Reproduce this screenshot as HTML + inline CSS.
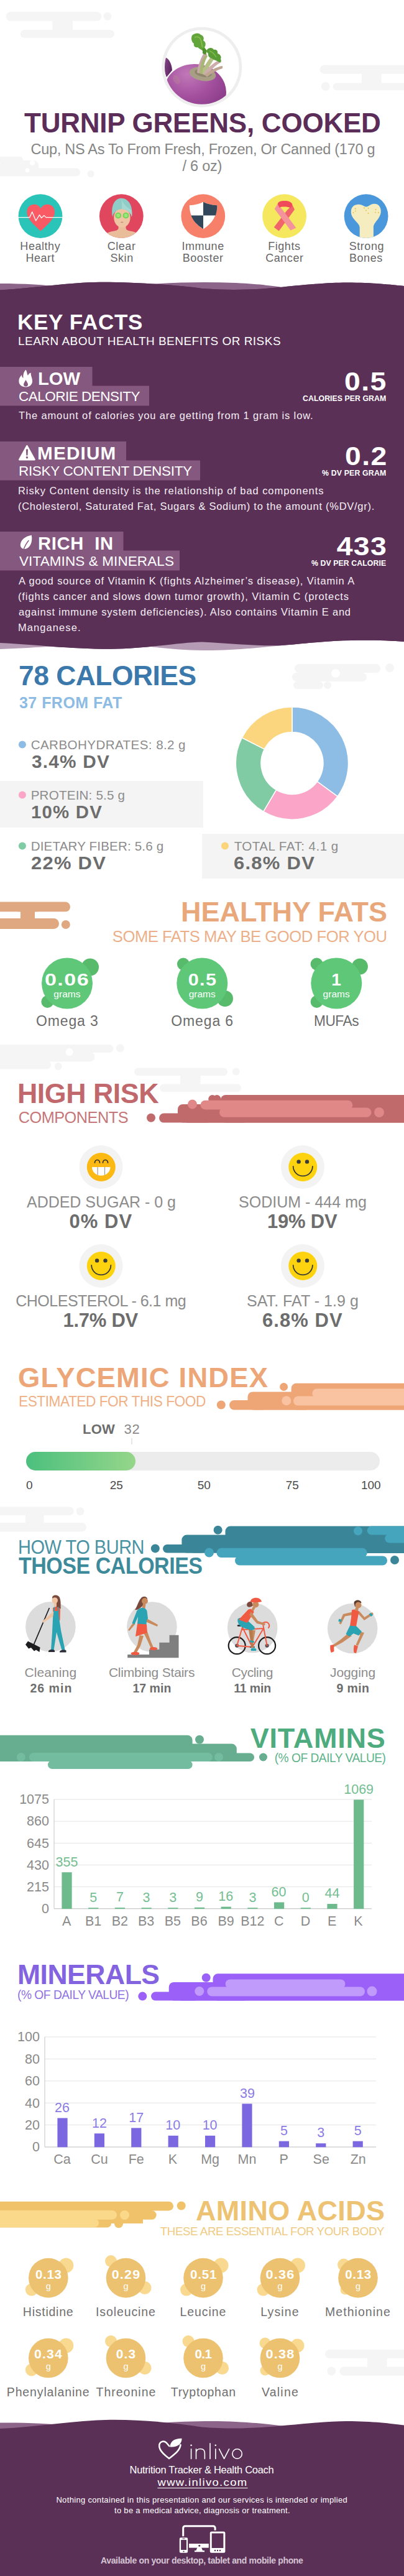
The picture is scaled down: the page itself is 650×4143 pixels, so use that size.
<!DOCTYPE html>
<html><head><meta charset="utf-8"><title>Turnip Greens, Cooked</title><style>
html,body{margin:0;padding:0;background:#fff;width:650px;height:4143px;overflow:hidden}#pg{width:650px;height:4143px;position:relative;overflow:hidden;font-family:"Liberation Sans",sans-serif}
.t{position:absolute;white-space:nowrap;margin:0;padding:0}
#bg{position:absolute;left:0;top:0}
</style></head><body><div id="pg">
<svg id="bg" width="650" height="4143" viewBox="0 0 650 4143">
<rect x="9.8" y="19" width="153.6" height="14.799999999999997" rx="7.399999999999999" fill="#f5f5f5"/>
<circle cx="173" cy="26.3" r="6.5" fill="#f5f5f5"/>
<rect x="32.7" y="48" width="151.3" height="13" rx="6.5" fill="#f5f5f5"/>
<rect x="84.4" y="28" width="32.599999999999994" height="26" rx="0" fill="#f5f5f5"/>
<rect x="514.6" y="104.6" width="155.39999999999998" height="14.200000000000003" rx="7.100000000000001" fill="#f5f5f5"/>
<rect x="535.5" y="133.5" width="134.5" height="11.800000000000011" rx="5.900000000000006" fill="#f5f5f5"/>
<circle cx="523.7" cy="139" r="7" fill="#f5f5f5"/>
<rect x="581.9" y="112" width="31.700000000000045" height="28" rx="0" fill="#f5f5f5"/>
<rect x="-20" y="252" width="57" height="10" rx="5.0" fill="#f5f5f5"/>
<rect x="-20" y="270.6" width="149" height="12.899999999999977" rx="6.449999999999989" fill="#f5f5f5"/>
<circle cx="146" cy="279.5" r="5.5" fill="#f5f5f5"/>
<rect x="0" y="258" width="62" height="20" rx="8" fill="#f5f5f5"/>
<circle cx="52" cy="262" r="4" fill="#fff"/>
<circle cx="44" cy="274" r="3.5" fill="#fff"/>
<g>
<defs><clipPath id="pc"><circle cx="324.800" cy="108" r="59.800"/></clipPath>
<radialGradient id="tg" cx="0.35" cy="0.2" r="0.9"><stop offset="0" stop-color="#c078b8"/><stop offset="0.45" stop-color="#a4509f"/><stop offset="1" stop-color="#7c337e"/></radialGradient>
<linearGradient id="tg2" x1="0" y1="0" x2="1" y2="0.5"><stop offset="0" stop-color="#8a4a8c"/><stop offset="1" stop-color="#5e2560"/></linearGradient></defs>
<circle cx="324.800" cy="108" r="64.500" fill="#eeeeee"/><circle cx="324.800" cy="108" r="59.800" fill="#fff"/>
<g clip-path="url(#pc)">
<path d="M264 92 C270 92 276 100 277 113 L268 124 C264 116 262 100 264 92Z" fill="url(#tg2)"/>
<ellipse cx="314" cy="147" rx="50" ry="44" fill="url(#tg)" transform="rotate(6 314 147)"/>
<ellipse cx="284" cy="128" rx="5" ry="8" fill="#b9918f" opacity="0.3" transform="rotate(-25 284 128)"/>
<ellipse cx="326" cy="119" rx="21.500" ry="11" fill="#a89e86" transform="rotate(10 326 119)"/>
<ellipse cx="327" cy="117.500" rx="14" ry="6" fill="#8f866c" transform="rotate(10 327 117.500)"/>
<path d="M317 117 C318 105 324 92 328 85 L333 87 C330 96 327 108 326 119Z" fill="#c9a7aa"/>
<path d="M323 118 C328 106 338 92 345 85 L349 88 C343 97 334 110 330 121Z" fill="#b7c084"/>
<path d="M327 118 C335 108 346 99 354 96 L356 100 C348 104 338 113 332 122Z" fill="#cdaead"/>
<path d="M329 120 C338 113 350 107 358 106 L358 110 C350 112 340 118 333 124Z" fill="#bfa592"/>
<path d="M321 118 C321 108 325 96 331 88 L334 90 C329 99 326 109 326 119Z" fill="#a6b873"/>
<path d="M309 57 C313 53 320 52 323 56 C327 57 329 61 327 65 C331 67 332 72 329 76 C332 79 331 83 327 83 C325 80 321 79 318 76 C314 77 311 74 312 70 C308 68 307 61 309 57Z" fill="#62a53a"/>
<path d="M313 60 C318 58 322 60 323 64 C325 68 324 72 326 76" fill="none" stroke="#8cc152" stroke-width="1.500"/>
<path d="M333 80 C336 76 342 76 344 80 C348 79 351 82 350 86 C354 87 357 91 355 95 C357 98 355 101 352 100 C349 97 344 97 341 94 C337 93 334 90 335 86 C333 85 332 82 333 80Z" fill="#5a9c35"/>
<path d="M337 82 C341 83 345 87 348 92" fill="none" stroke="#86bb4e" stroke-width="1.400"/>
<path d="M326 78 C329 77 332 79 333 82 L331 88 L326 86Z" fill="#4f8f2e"/>
</g></g>
<circle cx="65" cy="347.6" r="35.4" fill="#2ac4b8"/>
<circle cx="195.3" cy="347.6" r="35.4" fill="#e0475f"/>
<circle cx="326.8" cy="347.6" r="35.4" fill="#f7806a"/>
<circle cx="457.6" cy="347.6" r="35.4" fill="#f5e75e"/>
<circle cx="589.1" cy="347.6" r="35.4" fill="#4a98db"/>
<path d="M65.500 371.800 C58 364 43.200 353 43.200 341 C43.200 333 49 328.800 55 328.800 C60 328.800 63.500 331.500 65.500 335.500 C67.500 331.500 71 328.800 76.500 328.800 C82.500 328.800 88 333 88 341 C88 353 73 364 65.500 371.800Z" fill="#fa5a64"/>
<path d="M29.600 349.600 H47.800 L51.700 340.700 L57.700 355 L63.600 345.600 L66.600 350.600 L71 346.600 L74 349.600 H100.400" fill="none" stroke="#fff" stroke-width="1.300" stroke-linejoin="round"/>
<defs><clipPath id="c1"><circle cx="195.300" cy="347.600" r="35.400"/></clipPath></defs><g clip-path="url(#c1)">
<path d="M166 386 C166 376 174 373 184 371.500 C189 370.500 190.600 369 190.600 366 V358 H202.500 V366 C202.500 369 204 370.500 209 371.500 C219 373 226 376 226 386Z" fill="#e9bc9a"/>
<ellipse cx="196.400" cy="350" rx="13.200" ry="15.800" fill="#eec4a3"/>
<path d="M181 349 C178 332 184 319 195 318.800 C207 319 214.500 331 212 349 C211 343 205 336.500 196 336 C188 336.500 182.500 342 181 349Z" fill="#8ecdc8"/>
<path d="M195 319 C197 326 202 332 211.500 338 C212.500 342 212.500 345 212 349 C211 343 205 336.500 196 336 C196.500 330 196 324 195 319Z" fill="#a5d8d3"/>
<circle cx="190.200" cy="346.600" r="4.900" fill="#74d455"/><circle cx="202.500" cy="346.600" r="4.900" fill="#74d455"/>
<circle cx="190.200" cy="346.600" r="3" fill="#9be67a"/><circle cx="202.500" cy="346.600" r="3" fill="#9be67a"/>
<path d="M193.500 357.300 Q196.300 355.800 199 357.300 Q196.300 359.600 193.500 357.300Z" fill="#c98a84"/></g>
<path d="M304.800 330.200 C313 330 321 328 327 324.800 C333 328 341 330 349.400 330.200 C349.400 346 342 359 327 368.400 C312 359 304.800 346 304.800 330.200Z" fill="#fff"/>
<path d="M327 324.800 C333 328 341 330 349.400 330.200 C349.400 336 348.500 341.500 346.800 346.600 H327Z" fill="#33475b"/>
<path d="M327 346.600 V368.400 C317 362 310.500 355 307.400 346.600Z" fill="#33475b"/>
<path d="M470.500 329.800 L474 337 L448.700 371.400 L440.800 365.400 L462 338Z" fill="#f0646a"/>
<path d="M446.700 327.800 L441.800 336 L467.500 370.400 L476.400 366.400 L455 338Z" fill="#f4939b"/>
<path d="M446.700 328 C447.500 324.500 451 322.900 457.600 322.900 C464.500 322.900 469.500 324.500 470.500 329.800 L467.500 334.500 C463 332 452.500 332 449.500 334Z" fill="#f04a5a"/>
<defs><clipPath id="c4"><circle cx="589.100" cy="347.600" r="35.400"/></clipPath></defs><g clip-path="url(#c4)">
<path d="M578.700 390 V366 C578.700 358 565 353 564.800 341 C564.600 332 571 328.500 577.500 328.800 C583 329 586 332.600 589.600 332.600 C593 332.600 596 328 602 327.800 C608.500 327.600 613 332.500 612.800 340 C612.500 352 600.900 357 600.900 366 V390Z" fill="#f5ecc0"/>
<g fill="#e6c64c"><circle cx="571.800" cy="335.700" r="1.100"/><circle cx="568.500" cy="342" r="1.100"/><circle cx="572" cy="339.500" r="0.900"/><circle cx="586" cy="334.500" r="1.100"/><circle cx="589" cy="338.500" r="1.100"/><circle cx="592.500" cy="335" r="1"/><circle cx="592.500" cy="343" r="1.100"/><circle cx="604.500" cy="337" r="1.100"/><circle cx="604" cy="341.500" r="1"/><circle cx="609" cy="342" r="1.100"/></g></g>
<path d="M0 456 C40 456 70 458 105 462 L105 472 L0 472Z" fill="#8d6489"/>
<path d="M235 457.500 C280 454 330 453 380 455 C420 457 440 460 462 463 L462 474 L235 474Z" fill="#8d6489"/>
<path d="M0 466.500 C60 463 110 454 161 453.700 C220 453.500 290 459 325 464 C380 468 420 465 454 461.700 C500 457 530 454.500 558 454.500 C600 454.500 630 458 650 460 L650 1032 C630 1030.500 600 1029.500 566 1030 C530 1030.500 500 1034 454 1038 C420 1039.500 370 1035 325 1032.500 C290 1033 230 1044 177 1043.800 C110 1043.500 60 1037 0 1034Z" fill="#5b3057"/>
<path d="M0 1030 L85 1030 L85 1039.500 C60 1041 30 1043 0 1044Z" fill="#b59bb3"/>
<path d="M245 1030 L460 1030 L460 1037.500 C430 1040 380 1046.500 325 1046 C295 1045.500 270 1043 245 1040.500Z" fill="#b59bb3"/>
<path d="M0 466.500 C60 463 110 454 161 453.700 C220 453.500 290 459 325 464 C380 468 420 465 454 461.700 C500 457 530 454.500 558 454.500 C600 454.500 630 458 650 460 L650 1032 C630 1030.500 600 1029.500 566 1030 C530 1030.500 500 1034 454 1038 C420 1039.500 370 1035 325 1032.500 C290 1033 230 1044 177 1043.800 C110 1043.500 60 1037 0 1034Z" fill="#5b3057"/>
<rect x="0" y="590" width="148.5" height="31" rx="0" fill="#85587f"/>
<rect x="0" y="620.5" width="240" height="32.0" rx="0" fill="#85587f"/>
<path d="M41.500 594.7 C44 598 43 601 45 604 C46 601 48 600 49.800 599.5 C49 604 52 607 52 613 C52 619 47.500 622.4 41.500 622.4 C35 622.4 30.400 619 30.400 613 C30.400 608 33 605 35 603 C35 606 36 607 37.500 608 C37 603 38 598 41.500 594.7Z M41.500 611 C43 614 45 616 45 618.5 C45 620.5 43.500 621.6 41.500 621.6 C39.500 621.6 38 620.5 38 618.5 C38 616 40 614 41.500 611Z" fill="#fff" fill-rule="evenodd"/>
<rect x="0" y="710" width="203" height="31" rx="0" fill="#85587f"/>
<rect x="0" y="740.5" width="322" height="32.0" rx="0" fill="#85587f"/>
<path d="M43.400 717 L55.600 739.2 H31.200Z" fill="#fff" stroke="#fff" stroke-width="2.400" stroke-linejoin="round"/><path d="M41.800 722.6 h3.200 l-0.500 10 h-2.200Z" fill="#85587f"/><circle cx="43.400" cy="735.8" r="1.700" fill="#85587f"/>
<rect x="0" y="855" width="198.5" height="31" rx="0" fill="#85587f"/>
<rect x="0" y="885.5" width="289" height="32.0" rx="0" fill="#85587f"/>
<path d="M50.800 860.8 C42 862 32.800 868 32.800 876.5 C32.800 880.5 36 883.2 40 883 C48 882 53 872 50.800 860.8Z" fill="#fff"/><path d="M37.800 884.5 C40 878 43 873 46 869.5" fill="none" stroke="#85587f" stroke-width="1.500" stroke-linecap="round"/>
<rect x="474" y="1068" width="138" height="14" rx="7.0" fill="#f5f5f5"/>
<rect x="470" y="1082" width="120" height="14" rx="7.0" fill="#f5f5f5"/>
<circle cx="627" cy="1074" r="7" fill="#f5f5f5"/>
<rect x="472" y="1096" width="48" height="12" rx="6.0" fill="#f5f5f5"/>
<circle cx="527" cy="1102" r="6" fill="#f5f5f5"/>
<circle cx="540" cy="1083" r="7" fill="#fff"/>
<rect x="0" y="1256" width="327" height="75" rx="0" fill="#f4f4f4"/>
<rect x="325" y="1341" width="325" height="72" rx="0" fill="#f4f4f4"/>
<circle cx="35.9" cy="1197.6" r="6" fill="#8dbde4"/>
<circle cx="35.9" cy="1278.6" r="6" fill="#fba6c8"/>
<circle cx="35.9" cy="1360.6" r="6" fill="#7fcba3"/>
<circle cx="361.9" cy="1360.6" r="6" fill="#fad57c"/>
<path d="M470.00 1137.00 A90.5 90.5 0 0 1 543.07 1280.89 L510.37 1257.00 A50 50 0 0 0 470.00 1177.50Z" fill="#8dbde4" stroke="#fff" stroke-width="1.5"/>
<path d="M543.07 1280.89 A90.5 90.5 0 0 1 423.70 1305.26 L444.42 1270.46 A50 50 0 0 0 510.37 1257.00Z" fill="#fba6c8" stroke="#fff" stroke-width="1.5"/>
<path d="M423.70 1305.26 A90.5 90.5 0 0 1 389.31 1186.52 L425.42 1204.86 A50 50 0 0 0 444.42 1270.46Z" fill="#80cba4" stroke="#fff" stroke-width="1.5"/>
<path d="M389.31 1186.52 A90.5 90.5 0 0 1 470.00 1137.00 L470.00 1177.50 A50 50 0 0 0 425.42 1204.86Z" fill="#fbd67f" stroke="#fff" stroke-width="1.5"/>
<rect x="-20" y="1450.5" width="133" height="16.0" rx="8.0" fill="#e0a880"/>
<rect x="-20" y="1477" width="115" height="17" rx="8.5" fill="#e0a880"/>
<rect x="33" y="1460" width="23" height="25" rx="0" fill="#e0a880"/>
<circle cx="105.8" cy="1487" r="7" fill="#e0a880"/>
<rect x="-20" y="1466.5" width="53" height="10.5" rx="5.25" fill="#fff"/>
<rect x="56" y="1466.5" width="74" height="10.5" rx="5.25" fill="#fff"/>
<circle cx="145" cy="1555.5" r="14" fill="#57bb6b"/>
<circle cx="76.4" cy="1611.0" r="10" fill="#57bb6b"/>
<circle cx="108" cy="1581.5" r="41" fill="#5ec878"/>
<circle cx="294.90000000000003" cy="1550.5" r="10" fill="#57bb6b"/>
<circle cx="362.0" cy="1606.0" r="13" fill="#57bb6b"/>
<circle cx="325.3" cy="1581.5" r="41" fill="#5ec878"/>
<circle cx="509.59999999999997" cy="1550.5" r="10" fill="#57bb6b"/>
<circle cx="578.9" cy="1554.5" r="13" fill="#57bb6b"/>
<circle cx="509.59999999999997" cy="1611.0" r="10" fill="#57bb6b"/>
<circle cx="541.3" cy="1581.5" r="41" fill="#5ec878"/>
<rect x="-20" y="1680" width="202.5" height="13" rx="6.5" fill="#f5f5f5"/>
<circle cx="193.4" cy="1685.7" r="6.5" fill="#f5f5f5"/>
<rect x="-20" y="1692" width="172.5" height="15.5" rx="7.75" fill="#f5f5f5"/>
<rect x="0" y="1686" width="100" height="14" rx="0" fill="#f5f5f5"/>
<circle cx="111.7" cy="1692" r="6" fill="#fff"/>
<rect x="-20" y="1706" width="102" height="13.5" rx="6.75" fill="#f5f5f5"/>
<circle cx="93.7" cy="1715" r="6" fill="#f5f5f5"/>
<rect x="216" y="1717.4" width="150" height="12.599999999999909" rx="6.2999999999999545" fill="#f5f5f5"/>
<circle cx="379.7" cy="1723.5" r="6" fill="#f5f5f5"/>
<rect x="257" y="1743.6" width="131" height="12.400000000000091" rx="6.2000000000000455" fill="#f5f5f5"/>
<rect x="290" y="1724" width="32.5" height="26" rx="0" fill="#f5f5f5"/>
<rect x="355" y="1761" width="315" height="44.59999999999991" rx="8" fill="#c06a6c"/>
<rect x="286" y="1776" width="114" height="29.59999999999991" rx="8" fill="#c06a6c"/>
<rect x="256" y="1790.5" width="84" height="15.099999999999909" rx="7.5499999999999545" fill="#c06a6c"/>
<rect x="300" y="1795" width="360" height="10.599999999999909" rx="0" fill="#c06a6c"/>
<circle cx="243" cy="1797.8" r="7" fill="#c06a6c"/>
<circle cx="341.7" cy="1767.5" r="6.5" fill="#c06a6c"/>
<circle cx="349" cy="1767.5" r="6.5" fill="#c06a6c"/>
<circle cx="309.5" cy="1776" r="7.5" fill="#e08788"/>
<rect x="322.5" y="1769.8" width="244.79999999999995" height="14.700000000000045" rx="7.350000000000023" fill="#e08788"/>
<rect x="353" y="1781.5" width="244.5" height="15.299999999999955" rx="7.649999999999977" fill="#e08788"/>
<circle cx="610" cy="1789" r="8" fill="#e08788"/>
<circle cx="162.5" cy="1877" r="35" fill="#f3f3f3"/>
<circle cx="162.8" cy="1877" r="23" fill="#fcb913"/>
<path d="M148.0 1877 H177.5 A14.750 13.800 0 0 1 148.0 1877Z" fill="#fff"/>
<path d="M152.5 1870 a4 4.500 0 0 1 8 0 M165.5 1870 a4 4.500 0 0 1 8 0" fill="none" stroke="#2b2b2b" stroke-width="1.7" stroke-linecap="round"/>
<path d="M157.1 1877 V1889.8 M168.5 1877 V1889.8" stroke="#9a9a9a" stroke-width="1.2" fill="none"/>
<circle cx="487" cy="1877" r="35" fill="#f3f3f3"/>
<circle cx="487.3" cy="1877" r="23" fill="#fdd30f"/>
<circle cx="480.6" cy="1868.4" r="3.2" fill="#3a3a3a"/><circle cx="494" cy="1868.4" r="3.2" fill="#3a3a3a"/>
<path d="M471.7 1875.8 A15.600 15.600 0 0 0 502.9 1875.8" fill="none" stroke="#3a3a3a" stroke-width="1.8" stroke-linecap="round"/>
<circle cx="162.5" cy="2036" r="35" fill="#f3f3f3"/>
<circle cx="162.8" cy="2036" r="23" fill="#fdd30f"/>
<circle cx="156.1" cy="2027.4" r="3.2" fill="#3a3a3a"/><circle cx="169.5" cy="2027.4" r="3.2" fill="#3a3a3a"/>
<path d="M147.2 2034.8 A15.600 15.600 0 0 0 178.4 2034.8" fill="none" stroke="#3a3a3a" stroke-width="1.8" stroke-linecap="round"/>
<circle cx="487" cy="2036" r="35" fill="#f3f3f3"/>
<circle cx="487.3" cy="2036" r="23" fill="#fdd30f"/>
<circle cx="480.6" cy="2027.4" r="3.2" fill="#3a3a3a"/><circle cx="494" cy="2027.4" r="3.2" fill="#3a3a3a"/>
<path d="M471.7 2034.8 A15.600 15.600 0 0 0 502.9 2034.8" fill="none" stroke="#3a3a3a" stroke-width="1.8" stroke-linecap="round"/>
<rect x="468.6" y="2224.8" width="201.39999999999998" height="42.59999999999991" rx="8" fill="#eea677"/>
<rect x="398.5" y="2238.5" width="101.5" height="28.90000000000009" rx="8" fill="#eea677"/>
<rect x="369" y="2252" width="61" height="15.400000000000091" rx="7.7000000000000455" fill="#eea677"/>
<rect x="410" y="2258" width="250" height="9.400000000000091" rx="0" fill="#eea677"/>
<circle cx="355.8" cy="2259.5" r="7" fill="#eea677"/>
<circle cx="456.6" cy="2230.5" r="6.5" fill="#eea677"/>
<circle cx="460.8" cy="2252.8" r="7.5" fill="#f9c3a2"/>
<rect x="502.4" y="2233.6" width="167.60000000000002" height="14.400000000000091" rx="7.2000000000000455" fill="#f9c3a2"/>
<rect x="472" y="2245.5" width="198" height="15.099999999999909" rx="7.5499999999999545" fill="#f9c3a2"/>
<rect x="211.5" y="2313" width="1.0" height="10" rx="0" fill="#cfcfcf"/>
<defs><linearGradient id="gg" x1="0" x2="1"><stop offset="0" stop-color="#4cc07e"/><stop offset="1" stop-color="#95d68a"/></linearGradient></defs>
<rect x="42" y="2335" width="569" height="30" rx="15.0" fill="#ececec"/>
<rect x="42" y="2335" width="176" height="30" rx="15.0" fill="url(#gg)"/>
<rect x="-20" y="2423.6" width="138.7" height="13.400000000000091" rx="6.7000000000000455" fill="#f5f5f5"/>
<circle cx="129" cy="2430.7" r="6.5" fill="#f5f5f5"/>
<rect x="-20" y="2449" width="159" height="14.400000000000091" rx="7.2000000000000455" fill="#f5f5f5"/>
<rect x="41" y="2430" width="29.799999999999997" height="26" rx="0" fill="#f5f5f5"/>
<rect x="362.5" y="2454.6" width="307.5" height="43.40000000000009" rx="8" fill="#3b8598"/>
<rect x="292.4" y="2468.6" width="127.60000000000002" height="28.90000000000009" rx="8" fill="#3b8598"/>
<rect x="262" y="2484" width="68" height="13.5" rx="6.75" fill="#3b8598"/>
<rect x="310" y="2488" width="350" height="9.5" rx="0" fill="#3b8598"/>
<circle cx="249.8" cy="2490.4" r="7" fill="#3b8598"/>
<circle cx="350.6" cy="2460.8" r="7" fill="#3b8598"/>
<circle cx="336.5" cy="2497" r="7.5" fill="#45a5bd"/>
<rect x="348.5" y="2489.8" width="242.20000000000005" height="15.199999999999818" rx="7.599999999999909" fill="#45a5bd"/>
<rect x="378" y="2502.4" width="245" height="15.099999999999909" rx="7.5499999999999545" fill="#45a5bd"/>
<circle cx="635" cy="2509" r="7" fill="#3b8598"/>
<circle cx="576" cy="2462.3" r="7" fill="#45a5bd"/>
<rect x="590.7" y="2454.6" width="79.29999999999995" height="14.0" rx="7.0" fill="#45a5bd"/>
<rect x="619.3" y="2467" width="50.700000000000045" height="14.599999999999909" rx="7.2999999999999545" fill="#45a5bd"/>
<circle cx="81.4" cy="2616.4" r="40.3" fill="#dcdcdc"/>
<circle cx="244.4" cy="2616.5" r="40.3" fill="#dcdcdc"/>
<circle cx="406.2" cy="2618" r="40.3" fill="#dcdcdc"/>
<circle cx="567.2" cy="2619" r="40.3" fill="#dcdcdc"/>
<g>
<path d="M79.400 2586 L53.200 2647.600" stroke="#1d1d1f" stroke-width="1.700" fill="none"/>
<path d="M41 2645 L45 2639.500 L64.500 2649.500 L63.500 2657 L58 2653.500 L55 2655.500 L50 2650 L46 2651.500Z" fill="#1d1d1f"/>
<path d="M84 2570 C84 2564 95 2564 96.500 2571 C98.500 2578 97 2584 98 2587 L89 2587 C91 2582 90 2578 88 2578Z" fill="#7a4a3c"/>
<circle cx="88.200" cy="2574" r="4.800" fill="#f0c3a2"/><rect x="87" y="2578" width="4" height="6" fill="#f0c3a2"/>
<path d="M85 2586 C89 2583.500 95 2584 97 2588 L96.500 2606 L85.500 2606Z" fill="#f05a42"/>
<path d="M88 2590 L68 2607.500 L69.500 2610 L90 2596Z" fill="#f0c3a2"/>
<path d="M86.500 2591 L94 2591 L95.500 2605 L98 2622 L104.500 2653 L99.500 2654 L91 2625 L86.500 2654 L82 2654 L84 2625 L85 2604Z" fill="#2aa3b2"/>
<path d="M87.500 2584.500 L87 2592 M93.500 2584.500 L94 2592" stroke="#2aa3b2" stroke-width="1.800"/>
<path d="M78 2655 C80 2652.500 86 2652.500 88 2654.500 L88 2657 L78 2657Z" fill="#2a2f3a"/><path d="M96 2656 C98 2653 104 2652.500 106.500 2654.500 L106.500 2657.500 L96 2657.500Z" fill="#2a2f3a"/>
</g>
<g>
<path d="M205.200 2661 H240 V2652.700 H256.300 V2641.700 H272.600 V2629.800 H287.500 V2666.300 H205.200Z" fill="#7f7f7f"/>
<path d="M228 2569 C233 2566 238 2569 237 2573 L231 2581 C226 2586 222 2590 217 2589 C221 2584 222 2575 228 2569Z" fill="#7a4a3c"/>
<circle cx="233" cy="2575" r="5" fill="#c98b5e"/><path d="M230 2579 L234.500 2579.500 L233.500 2587 L228.500 2587Z" fill="#c98b5e"/>
<path d="M214 2610 L206 2621.500 L208 2623 L217.500 2612Z" fill="#c98b5e"/>
<path d="M236 2603 L254 2613 L253 2616 L234 2608Z" fill="#c98b5e"/>
<path d="M224.500 2630 L221 2646 L215 2657 L219.500 2658.500 L226 2647 L231 2631Z" fill="#c98b5e"/>
<path d="M231 2626 L238 2640 L243 2651.500 L247 2650 L242 2638 L237 2624Z" fill="#c98b5e"/>
<path d="M226 2586.500 C231 2584.500 235 2587 236.500 2591 L238 2603 L236 2606 L235.500 2613 L221 2612 L222 2600 L216.500 2612.500 L212.500 2610.500 L219 2594 C220 2590 222 2588 226 2586.500Z" fill="#2aa3b2"/>
<path d="M221 2611.500 L236 2612.500 L237 2626 L218 2632 Z" fill="#f05a42"/>
<ellipse cx="217.500" cy="2659.300" rx="7" ry="2.600" fill="#f05a42"/><ellipse cx="247" cy="2651.500" rx="6.200" ry="2.400" fill="#f05a42"/>
</g>
<g>
<g fill="none" stroke="#1d1d1f" stroke-width="2.200"><circle cx="381.200" cy="2646.700" r="13.500"/><circle cx="429.600" cy="2646.700" r="13.500"/></g>
<circle cx="381.200" cy="2646.700" r="3" fill="#4a4a55"/><circle cx="429.600" cy="2646.700" r="3" fill="#4a4a55"/>
<path d="M381.200 2646.700 L390 2617 L405.900 2649 Z M390 2621 L424 2619 L405.900 2649 M423 2612 L429.600 2646.700 M421.500 2612 C424 2608 430 2608 432 2611 C434 2614 433.500 2616 432 2618" fill="none" stroke="#f05a42" stroke-width="2" stroke-linejoin="round" stroke-linecap="round"/>
<path d="M383 2614.500 H394" stroke="#1d1d1f" stroke-width="2.400" stroke-linecap="round"/>
<path d="M402 2649 H410 M405.900 2649 V2638" stroke="#3c3c46" stroke-width="1.600"/>
<path d="M406 2622 L404 2640 L407.500 2640.500 L411 2622Z" fill="#c98b5e"/>
<path d="M400 2620 L404.500 2650 L408 2650 L406 2619Z" fill="#b57c50"/>
<path d="M382.500 2604 C386 2600 394 2602 398 2606 L409 2616 C411 2619 409 2622 405 2622 L394 2619 C388 2617 381 2612 382.500 2604Z" fill="#2aa3b2"/>
<path d="M399 2589 C403 2586 408 2589 408.500 2593 L398 2610 L384 2605 Z" fill="#f05a42"/>
<path d="M404 2592 L415 2607 L427 2611 L426 2614 L413 2611 L401 2597Z" fill="#c98b5e"/>
<path d="M405 2576 C400 2575 396 2578 397.500 2583 C400 2586 404 2585 407 2582Z" fill="#7a4a3c"/>
<circle cx="411.300" cy="2580.500" r="5" fill="#c98b5e"/><path d="M407 2584 L411 2585 L408 2591 L404 2589.500Z" fill="#c98b5e"/>
<path d="M402.500 2576.500 C403 2568 419 2567 421 2576 C415 2577.500 408 2577.500 402.500 2576.500Z" fill="#f05a42"/>
<path d="M403.500 2652 C405 2650 410 2650 412.500 2652.500 L412 2655 L404 2655Z" fill="#2aa3b2"/><path d="M402 2638 L409 2639.500 L409 2642 L401.500 2641Z" fill="#2aa3b2"/>
</g>
<g>
<path d="M569 2592 L552 2596 L545.500 2611 L548.500 2612.500 L555 2599.500 L569 2597Z" fill="#c98b5e"/>
<path d="M575 2594 L586 2606 L601 2596 L599 2593 L586.500 2601 L578 2591Z" fill="#c98b5e"/>
<path d="M560 2627 L548 2637 L535 2646 L537 2649 L551 2641.500 L566 2631Z" fill="#c98b5e"/>
<path d="M572 2622 L586 2626 L576 2647 L572.500 2645.500 L579.500 2629.500 L570 2628Z" fill="#c98b5e"/>
<path d="M566 2589.500 C570 2587.500 576 2588.500 577.500 2592 L575 2605 L573 2616 L563 2615 L565 2602Z" fill="#f05a42"/>
<path d="M563 2614.500 L573.500 2615.500 L582 2624 L577 2630.500 L569 2627 L562 2632 L556.500 2628 Z" fill="#2aa3b2"/>
<path d="M569.500 2578 C570 2572 581 2572 581.500 2578 L578 2578.500 L575 2582 L571 2584Z" fill="#5a3a2c"/>
<circle cx="576.500" cy="2581.500" r="5" fill="#c98b5e"/><path d="M572.500 2584 L577 2586 L576 2591 L571 2590Z" fill="#c98b5e"/>
<path d="M545.500 2603.500 L550 2605 L548.500 2609 L544.200 2607.500Z" fill="#2aa3b2"/><path d="M593.500 2596 L597 2600 L600 2597.500 L596.500 2594Z" fill="#2aa3b2"/>
<path d="M531.500 2646 L537 2645 L537.500 2656 L533 2658 C531 2655 531 2649 531.500 2646Z" fill="#f05a42"/>
<path d="M570 2645.500 L576 2647.500 L573 2659 L569.500 2658 C568.500 2654 569 2649 570 2645.500Z" fill="#f05a42"/>
</g>
<rect x="-10" y="2790.8" width="319.6" height="42.19999999999982" rx="8" fill="#67ad90"/>
<circle cx="321" cy="2797.8" r="7" fill="#67ad90"/>
<rect x="-10" y="2804.6" width="390.8" height="28.40000000000009" rx="8" fill="#67ad90"/>
<rect x="300" y="2819.4" width="109" height="13.599999999999909" rx="6.7999999999999545" fill="#67ad90"/>
<rect x="-10" y="2800" width="310" height="33" rx="0" fill="#67ad90"/>
<circle cx="423.5" cy="2826" r="6.5" fill="#67ad90"/>
<circle cx="33.8" cy="2826" r="7" fill="#73bc9f"/>
<rect x="46.8" y="2819" width="295.2" height="14" rx="7.0" fill="#73bc9f"/>
<circle cx="352" cy="2826" r="7" fill="#73bc9f"/>
<rect x="77" y="2831.5" width="232.60000000000002" height="13.5" rx="6.75" fill="#73bc9f"/>
<rect x="87" y="2893.5" width="511" height="1.0" rx="0" fill="#e4e4e4"/>
<rect x="87" y="2928.65" width="511" height="1.0" rx="0" fill="#e4e4e4"/>
<rect x="87" y="2963.8" width="511" height="1.0" rx="0" fill="#e4e4e4"/>
<rect x="87" y="2998.95" width="511" height="1.0" rx="0" fill="#e4e4e4"/>
<rect x="87" y="3034.1" width="511" height="1.0" rx="0" fill="#e4e4e4"/>
<rect x="87" y="3069.25" width="511" height="1.0" rx="0" fill="#bdbdbd"/>
<rect x="86.5" y="2894" width="1.0" height="175.75" rx="0" fill="#c6c6c6"/>
<rect x="99.4" y="3011.211627906977" width="16.19999999999999" height="58.83837209302328" rx="0" fill="#6dba8c"/>
<rect x="142.1" y="3068.25" width="16.19999999999999" height="1.800000000000182" rx="0" fill="#6dba8c"/>
<rect x="184.8" y="3068.105581395349" width="16.19999999999999" height="1.9444186046512186" rx="0" fill="#6dba8c"/>
<rect x="227.50000000000003" y="3068.25" width="16.19999999999999" height="1.800000000000182" rx="0" fill="#6dba8c"/>
<rect x="270.2" y="3068.25" width="16.200000000000045" height="1.800000000000182" rx="0" fill="#6dba8c"/>
<rect x="312.9" y="3067.778604651163" width="16.200000000000045" height="2.271395348837359" rx="0" fill="#6dba8c"/>
<rect x="355.6" y="3066.634186046512" width="16.200000000000045" height="3.415813953488396" rx="0" fill="#6dba8c"/>
<rect x="398.3" y="3068.25" width="16.200000000000045" height="1.800000000000182" rx="0" fill="#6dba8c"/>
<rect x="441.0" y="3059.4406976744185" width="16.200000000000045" height="10.609302325581666" rx="0" fill="#6dba8c"/>
<rect x="483.7" y="3068.25" width="16.200000000000045" height="1.800000000000182" rx="0" fill="#6dba8c"/>
<rect x="526.4" y="3062.056511627907" width="16.200000000000045" height="7.9934883720929975" rx="0" fill="#6dba8c"/>
<rect x="569.1" y="2894.480930232558" width="16.200000000000045" height="175.56906976744222" rx="0" fill="#6dba8c"/>
<rect x="342.5" y="3174.3" width="327.5" height="43.19999999999982" rx="8" fill="#9a60f8"/>
<rect x="271.7" y="3188" width="128.3" height="29.5" rx="8" fill="#9a60f8"/>
<rect x="243" y="3203.6" width="77" height="13.900000000000091" rx="6.9500000000000455" fill="#9a60f8"/>
<rect x="290" y="3208" width="370" height="9.5" rx="0" fill="#9a60f8"/>
<circle cx="229.3" cy="3210.6" r="7" fill="#9a60f8"/>
<circle cx="331.7" cy="3180.7" r="7" fill="#9a60f8"/>
<circle cx="320.8" cy="3202.5" r="7.5" fill="#c19bfb"/>
<rect x="362.7" y="3183.5" width="192.7" height="14.5" rx="7.25" fill="#c19bfb"/>
<rect x="333.3" y="3195.4" width="253.7" height="15.0" rx="7.5" fill="#c19bfb"/>
<circle cx="598.5" cy="3202.6" r="8" fill="#c19bfb"/>
<rect x="72" y="3275.5" width="533" height="1.0" rx="0" fill="#e4e4e4"/>
<rect x="72" y="3310.9" width="533" height="1.0" rx="0" fill="#e4e4e4"/>
<rect x="72" y="3346.3" width="533" height="1.0" rx="0" fill="#e4e4e4"/>
<rect x="72" y="3381.7" width="533" height="1.0" rx="0" fill="#e4e4e4"/>
<rect x="72" y="3417.1" width="533" height="1.0" rx="0" fill="#e4e4e4"/>
<rect x="72" y="3452.5" width="533" height="1.0" rx="0" fill="#bdbdbd"/>
<rect x="71.5" y="3276" width="1.0" height="177.0" rx="0" fill="#c6c6c6"/>
<rect x="92.4" y="3406.48" width="16.19999999999999" height="46.820000000000164" rx="0" fill="#7b68e0"/>
<rect x="151.8" y="3431.26" width="16.19999999999999" height="22.039999999999964" rx="0" fill="#7b68e0"/>
<rect x="211.20000000000002" y="3422.41" width="16.19999999999999" height="30.890000000000327" rx="0" fill="#7b68e0"/>
<rect x="270.59999999999997" y="3434.8" width="16.200000000000045" height="18.5" rx="0" fill="#7b68e0"/>
<rect x="330.0" y="3434.8" width="16.200000000000045" height="18.5" rx="0" fill="#7b68e0"/>
<rect x="389.4" y="3383.47" width="16.200000000000045" height="69.83000000000038" rx="0" fill="#7b68e0"/>
<rect x="448.79999999999995" y="3443.65" width="16.200000000000045" height="9.650000000000091" rx="0" fill="#7b68e0"/>
<rect x="508.19999999999993" y="3447.19" width="16.200000000000045" height="6.110000000000127" rx="0" fill="#7b68e0"/>
<rect x="567.6" y="3443.65" width="16.200000000000045" height="9.650000000000091" rx="0" fill="#7b68e0"/>
<rect x="-20" y="3540.8" width="299" height="14.699999999999818" rx="7.349999999999909" fill="#f0c36a"/>
<rect x="-20" y="3555" width="271.6" height="14.800000000000182" rx="7.400000000000091" fill="#f0c36a"/>
<rect x="-20" y="3569.4" width="199" height="13.099999999999909" rx="6.5499999999999545" fill="#f0c36a"/>
<rect x="-10" y="3548" width="240" height="28" rx="0" fill="#f0c36a"/>
<circle cx="291.7" cy="3547.5" r="7" fill="#f0c36a"/>
<circle cx="191" cy="3576.2" r="7" fill="#f0c36a"/>
<rect x="-20" y="3555" width="208" height="14.699999999999818" rx="7.349999999999909" fill="#fbd98b"/>
<circle cx="200.5" cy="3562.5" r="7.5" fill="#fbd98b"/>
<rect x="-20" y="3568.6" width="179" height="13.400000000000091" rx="6.7000000000000455" fill="#fbd98b"/>
<circle cx="106.3" cy="3643.6" r="12" fill="#f9d98f"/>
<circle cx="50.8" cy="3682.6" r="10" fill="#f9d98f"/>
<circle cx="77.8" cy="3663.6" r="31.8" fill="#ecc16f"/>
<circle cx="178.5" cy="3636.6" r="9.5" fill="#f9d98f"/>
<circle cx="233.0" cy="3679.6" r="10.5" fill="#f9d98f"/>
<circle cx="202.5" cy="3663.6" r="31.8" fill="#ecc16f"/>
<circle cx="355.5" cy="3643.6" r="12" fill="#f9d98f"/>
<circle cx="300" cy="3682.6" r="10" fill="#f9d98f"/>
<circle cx="327" cy="3663.6" r="31.8" fill="#ecc16f"/>
<circle cx="479.0" cy="3643.6" r="12" fill="#f9d98f"/>
<circle cx="423.5" cy="3682.6" r="10" fill="#f9d98f"/>
<circle cx="450.5" cy="3663.6" r="31.8" fill="#ecc16f"/>
<circle cx="553" cy="3642.6" r="10" fill="#f9d98f"/>
<circle cx="555.5" cy="3682.6" r="8" fill="#f9d98f"/>
<circle cx="576" cy="3663.6" r="31.8" fill="#ecc16f"/>
<circle cx="106.3" cy="3772.5" r="12" fill="#f9d98f"/>
<circle cx="50.8" cy="3811.5" r="10" fill="#f9d98f"/>
<circle cx="77.8" cy="3792.5" r="31.8" fill="#ecc16f"/>
<circle cx="178.5" cy="3765.5" r="9.5" fill="#f9d98f"/>
<circle cx="233.0" cy="3808.5" r="10.5" fill="#f9d98f"/>
<circle cx="202.5" cy="3792.5" r="31.8" fill="#ecc16f"/>
<circle cx="303" cy="3765.5" r="9.5" fill="#f9d98f"/>
<circle cx="357.5" cy="3808.5" r="10.5" fill="#f9d98f"/>
<circle cx="327" cy="3792.5" r="31.8" fill="#ecc16f"/>
<circle cx="426.5" cy="3768.5" r="9" fill="#f9d98f"/>
<circle cx="478.5" cy="3772.5" r="11" fill="#f9d98f"/>
<circle cx="426.5" cy="3812.5" r="8" fill="#f9d98f"/>
<circle cx="450.5" cy="3792.5" r="31.8" fill="#ecc16f"/>
<rect x="523" y="3779" width="147" height="13.800000000000182" rx="6.900000000000091" fill="#f5f5f5"/>
<rect x="546.4" y="3806.6" width="123.60000000000002" height="14.099999999999909" rx="7.0499999999999545" fill="#f5f5f5"/>
<circle cx="533.4" cy="3813.5" r="7" fill="#f5f5f5"/>
<rect x="591" y="3786" width="31.5" height="27" rx="0" fill="#f5f5f5"/>
<path d="M0 3896.500 C40 3896 80 3898 112 3901 L112 3912 L0 3912Z" fill="#8d6489"/>
<path d="M250 3897.500 C290 3894.500 340 3893 380 3895 C420 3897 440 3900 462 3902.500 L462 3914 L250 3914Z" fill="#8d6489"/>
<path d="M0 3906 C60 3903 120 3893 177 3891.700 C230 3891 290 3898 325 3903.500 C380 3908 420 3904.500 462 3900.600 C500 3897 530 3894 558 3894 C600 3894 630 3898 650 3900.600 L650 4143 L0 4143Z" fill="#5b3057"/>
<path d="M272 3954 C262 3946.500 256.200 3940.500 256.200 3933.500 C256.200 3927 263 3924.500 267.500 3928.500 L272.300 3934 M272 3954 C281 3947 289.500 3941 290.500 3932" fill="none" stroke="#fff" stroke-width="2.500" stroke-linejoin="round" stroke-linecap="round"/>
<path d="M273.500 3935.500 C273.500 3926.500 281 3921.500 292.500 3921.800 C292.800 3930.500 285.500 3936.500 273.500 3935.500Z" fill="#fff"/>
<g fill="none" stroke="#fff" stroke-width="1.600" stroke-linecap="round" stroke-linejoin="round"><path d="M307.600 3938.800 V3954.400 M315.500 3938.800 V3954.400 M315.500 3945 C315.500 3940.800 318.500 3938.500 322.500 3938.500 C326.500 3938.500 329.400 3940.800 329.400 3945.500 V3954.400 M338 3929.800 V3954.400 M346.800 3938.800 V3954.400 M352.700 3938.800 L360.600 3954.400 L368.600 3938.800"/><circle cx="381.600" cy="3946.500" r="7.700"/></g>
<circle cx="307.600" cy="3932.800" r="1.300" fill="#fff"/><circle cx="346.800" cy="3932.800" r="1.300" fill="#fff"/>
<g>
<rect x="294.700" y="4062.800" width="51.400" height="33" rx="3" fill="none" stroke="#fff" stroke-width="3"/>
<rect x="294" y="4091" width="53" height="6.500" fill="#fff"/><circle cx="320.800" cy="4094.200" r="1.500" fill="#5b3057"/>
<path d="M317.500 4097 H324 L326 4102 H329 V4104.200 H313 V4102 H315.500Z" fill="#fff"/>
<rect x="287.800" y="4080.200" width="15.300" height="26.600" rx="3" fill="#fff" stroke="#5b3057" stroke-width="2"/>
<rect x="291.100" y="4085" width="8.900" height="16" fill="#5b3057"/><rect x="293.500" y="4082.500" width="4" height="1" fill="#5b3057"/><circle cx="295.500" cy="4103.500" r="1.100" fill="#5b3057"/>
<rect x="336.800" y="4070.400" width="26.600" height="36.400" rx="3.500" fill="#fff" stroke="#5b3057" stroke-width="2"/>
<rect x="340.700" y="4074.400" width="18.700" height="23.600" fill="#5b3057"/><circle cx="346" cy="4102" r="1.200" fill="#5b3057"/><circle cx="350" cy="4102" r="1.200" fill="#5b3057"/><circle cx="354" cy="4102" r="1.200" fill="#5b3057"/>
</g>
</svg>
<div class="t" style="top:176.4px;font-size:44px;line-height:44px;font-weight:700;color:#5b2d58;letter-spacing:-0.24px;left:39.00px;">TURNIP GREENS, COOKED</div>
<div class="t" style="top:229.2px;font-size:23.5px;line-height:23.5px;font-weight:400;color:#858585;letter-spacing:-0.28px;left:-73.61px;width:800px;text-align:center;">Cup, NS As To From Fresh, Frozen, Or Canned (170 g</div>
<div class="t" style="top:255.7px;font-size:23.5px;line-height:23.5px;font-weight:400;color:#858585;letter-spacing:-0.25px;left:-74.71px;width:800px;text-align:center;">/ 6 oz)</div>
<div class="t" style="top:387.1px;font-size:18px;line-height:18px;font-weight:400;color:#666;letter-spacing:0.55px;left:-335.23px;width:800px;text-align:center;">Healthy</div>
<div class="t" style="top:406.1px;font-size:18px;line-height:18px;font-weight:400;color:#666;letter-spacing:0.55px;left:-335.22px;width:800px;text-align:center;">Heart</div>
<div class="t" style="top:387.1px;font-size:18px;line-height:18px;font-weight:400;color:#666;letter-spacing:0.55px;left:-204.43px;width:800px;text-align:center;">Clear</div>
<div class="t" style="top:406.1px;font-size:18px;line-height:18px;font-weight:400;color:#666;letter-spacing:0.55px;left:-203.92px;width:800px;text-align:center;">Skin</div>
<div class="t" style="top:387.1px;font-size:18px;line-height:18px;font-weight:400;color:#666;letter-spacing:0.55px;left:-73.42px;width:800px;text-align:center;">Immune</div>
<div class="t" style="top:406.1px;font-size:18px;line-height:18px;font-weight:400;color:#666;letter-spacing:0.55px;left:-73.43px;width:800px;text-align:center;">Booster</div>
<div class="t" style="top:387.1px;font-size:18px;line-height:18px;font-weight:400;color:#666;letter-spacing:0.55px;left:57.38px;width:800px;text-align:center;">Fights</div>
<div class="t" style="top:406.1px;font-size:18px;line-height:18px;font-weight:400;color:#666;letter-spacing:0.55px;left:57.87px;width:800px;text-align:center;">Cancer</div>
<div class="t" style="top:387.1px;font-size:18px;line-height:18px;font-weight:400;color:#666;letter-spacing:0.55px;left:189.88px;width:800px;text-align:center;">Strong</div>
<div class="t" style="top:406.1px;font-size:18px;line-height:18px;font-weight:400;color:#666;letter-spacing:0.55px;left:188.88px;width:800px;text-align:center;">Bones</div>
<div class="t" style="top:500.4px;font-size:35px;line-height:35px;font-weight:700;color:#fff;letter-spacing:0.7px;left:28.00px;">KEY FACTS</div>
<div class="t" style="top:538.5px;font-size:19px;line-height:19px;font-weight:400;color:#fff;letter-spacing:0.48px;left:29.00px;">LEARN ABOUT HEALTH BENEFITS OR RISKS</div>
<div class="t" style="top:595.2px;font-size:29.2px;line-height:29.2px;font-weight:700;color:#fff;letter-spacing:-0.02px;left:61.00px;">LOW</div>
<div class="t" style="top:626.6px;font-size:22.5px;line-height:22.5px;font-weight:400;color:#fff;letter-spacing:-0.5px;left:30.00px;">CALORIE DENSITY</div>
<div class="t" style="top:593.1px;font-size:41.7px;line-height:41.7px;font-weight:700;color:#fff;letter-spacing:1.2px;right:27.62px;transform:scaleX(1.1132);transform-origin:right center;">0.5</div>
<div class="t" style="top:635.0px;font-size:12.3px;line-height:12.3px;font-weight:700;color:#fff;letter-spacing:0.06px;right:28.70px;">CALORIES PER GRAM</div>
<div class="t" style="top:660.4px;font-size:16.5px;line-height:16.5px;font-weight:400;color:#f4eef3;letter-spacing:0.86px;left:30.00px;">The amount of calories you are getting from 1 gram is low.</div>
<div class="t" style="top:715.2px;font-size:29.2px;line-height:29.2px;font-weight:700;color:#fff;letter-spacing:1.2px;left:60.00px;transform:scaleX(1.0156);transform-origin:left center;">MEDIUM</div>
<div class="t" style="top:746.6px;font-size:22.5px;line-height:22.5px;font-weight:400;color:#fff;letter-spacing:-0.32px;left:30.00px;">RISKY CONTENT DENSITY</div>
<div class="t" style="top:713.1px;font-size:41.7px;line-height:41.7px;font-weight:700;color:#fff;letter-spacing:1.2px;right:26.62px;transform:scaleX(1.1132);transform-origin:right center;">0.2</div>
<div class="t" style="top:755.0px;font-size:12.3px;line-height:12.3px;font-weight:700;color:#fff;letter-spacing:0.18px;right:28.58px;">% DV PER GRAM</div>
<div class="t" style="top:780.9px;font-size:16.5px;line-height:16.5px;font-weight:400;color:#f4eef3;letter-spacing:0.93px;left:29.00px;">Risky Content density is the relationship of bad components</div>
<div class="t" style="top:805.9px;font-size:16.5px;line-height:16.5px;font-weight:400;color:#f4eef3;letter-spacing:0.73px;left:29.00px;">(Cholesterol, Saturated Fat, Sugars &amp; Sodium) to the amount (%DV/gr).</div>
<div class="t" style="top:860.2px;font-size:29.2px;line-height:29.2px;font-weight:700;color:#fff;letter-spacing:0.62px;left:61.00px;">RICH &nbsp;IN</div>
<div class="t" style="top:891.6px;font-size:22.5px;line-height:22.5px;font-weight:400;color:#fff;letter-spacing:0.1px;left:31.00px;">VITAMINS &amp; MINERALS</div>
<div class="t" style="top:858.1px;font-size:41.7px;line-height:41.7px;font-weight:700;color:#fff;letter-spacing:1.2px;right:26.62px;transform:scaleX(1.1143);transform-origin:right center;">433</div>
<div class="t" style="top:900.0px;font-size:12.3px;line-height:12.3px;font-weight:700;color:#fff;letter-spacing:0.09px;right:28.71px;">% DV PER CALORIE</div>
<div class="t" style="top:926.4px;font-size:16.5px;line-height:16.5px;font-weight:400;color:#f4eef3;letter-spacing:0.88px;left:30.00px;">A good source of Vitamin K (fights Alzheimer’s disease), Vitamin A</div>
<div class="t" style="top:951.1px;font-size:16.5px;line-height:16.5px;font-weight:400;color:#f4eef3;letter-spacing:0.88px;left:29.00px;">(fights cancer and slows down tumor growth), Vitamin C (protects</div>
<div class="t" style="top:975.8px;font-size:16.5px;line-height:16.5px;font-weight:400;color:#f4eef3;letter-spacing:0.81px;left:30.00px;">against immune system deficiencies). Also contains Vitamin E and</div>
<div class="t" style="top:1000.5px;font-size:16.5px;line-height:16.5px;font-weight:400;color:#f4eef3;letter-spacing:1.08px;left:29.00px;">Manganese.</div>
<div class="t" style="top:1064.1px;font-size:45px;line-height:45px;font-weight:700;color:#3b78ab;letter-spacing:-0.5px;left:30.00px;transform:scaleX(0.9860);transform-origin:left center;">78 CALORIES</div>
<div class="t" style="top:1118.0px;font-size:25px;line-height:25px;font-weight:700;color:#8cbbe4;letter-spacing:0.46px;left:31.00px;">37 FROM FAT</div>
<div class="t" style="top:1187.5px;font-size:20.6px;line-height:20.6px;font-weight:400;color:#8c8c8c;letter-spacing:0.41px;left:49.70px;">CARBOHYDRATES: 8.2 g</div>
<div class="t" style="top:1211.2px;font-size:29px;line-height:29px;font-weight:700;color:#6d6d6d;letter-spacing:1.2px;left:50.70px;transform:scaleX(1.0262);transform-origin:left center;">3.4% DV</div>
<div class="t" style="top:1268.5px;font-size:20.6px;line-height:20.6px;font-weight:400;color:#8c8c8c;letter-spacing:0.2px;left:49.70px;">PROTEIN: 5.5 g</div>
<div class="t" style="top:1292.2px;font-size:29px;line-height:29px;font-weight:700;color:#6d6d6d;letter-spacing:1.2px;left:49.70px;transform:scaleX(1.0129);transform-origin:left center;">10% DV</div>
<div class="t" style="top:1350.5px;font-size:20.6px;line-height:20.6px;font-weight:400;color:#8c8c8c;letter-spacing:0.15px;left:49.70px;">DIETARY FIBER: 5.6 g</div>
<div class="t" style="top:1374.2px;font-size:29px;line-height:29px;font-weight:700;color:#6d6d6d;letter-spacing:1.2px;left:49.70px;transform:scaleX(1.0663);transform-origin:left center;">22% DV</div>
<div class="t" style="top:1350.5px;font-size:20.6px;line-height:20.6px;font-weight:400;color:#8c8c8c;letter-spacing:0.46px;left:376.70px;">TOTAL FAT: 4.1 g</div>
<div class="t" style="top:1374.2px;font-size:29px;line-height:29px;font-weight:700;color:#6d6d6d;letter-spacing:1.2px;left:375.70px;transform:scaleX(1.0673);transform-origin:left center;">6.8% DV</div>
<div class="t" style="top:1444.4px;font-size:45px;line-height:45px;font-weight:700;color:#e9a87c;letter-spacing:-0.05px;right:27.04px;">HEALTHY FATS</div>
<div class="t" style="top:1493.5px;font-size:25.7px;line-height:25.7px;font-weight:400;color:#ebb08a;letter-spacing:-0.5px;right:27.45px;">SOME FATS MAY BE GOOD FOR YOU</div>
<div class="t" style="top:1561.7px;font-size:28px;line-height:28px;font-weight:700;color:#fff;letter-spacing:1.2px;left:-291.61px;width:800px;text-align:center;transform:scaleX(1.2147);transform-origin:center center;">0.06</div>
<div class="t" style="top:1590.5px;font-size:15.5px;line-height:15.5px;font-weight:400;color:#fff;left:-292.12px;width:800px;text-align:center;">grams</div>
<div class="t" style="top:1631.3px;font-size:23px;line-height:23px;font-weight:400;color:#6b6b6b;letter-spacing:0.86px;left:-291.67px;width:800px;text-align:center;">Omega 3</div>
<div class="t" style="top:1561.7px;font-size:28px;line-height:28px;font-weight:700;color:#fff;letter-spacing:1.2px;left:-74.31px;width:800px;text-align:center;transform:scaleX(1.0928);transform-origin:center center;">0.5</div>
<div class="t" style="top:1590.5px;font-size:15.5px;line-height:15.5px;font-weight:400;color:#fff;left:-74.82px;width:800px;text-align:center;">grams</div>
<div class="t" style="top:1631.3px;font-size:23px;line-height:23px;font-weight:400;color:#6b6b6b;letter-spacing:0.86px;left:-74.37px;width:800px;text-align:center;">Omega 6</div>
<div class="t" style="top:1561.7px;font-size:28px;line-height:28px;font-weight:700;color:#fff;left:141.09px;width:800px;text-align:center;">1</div>
<div class="t" style="top:1590.5px;font-size:15.5px;line-height:15.5px;font-weight:400;color:#fff;left:141.17px;width:800px;text-align:center;">grams</div>
<div class="t" style="top:1631.3px;font-size:23px;line-height:23px;font-weight:400;color:#6b6b6b;letter-spacing:-0.5px;left:140.80px;width:800px;text-align:center;transform:scaleX(0.9879);transform-origin:center center;">MUFAs</div>
<div class="t" style="top:1735.6px;font-size:45px;line-height:45px;font-weight:700;color:#c0686b;letter-spacing:-0.5px;left:27.70px;transform:scaleX(0.9955);transform-origin:left center;">HIGH RISK</div>
<div class="t" style="top:1785.2px;font-size:25.3px;line-height:25.3px;font-weight:400;color:#c67679;letter-spacing:-0.49px;left:29.70px;">COMPONENTS</div>
<div class="t" style="top:1920.5px;font-size:25px;line-height:25px;font-weight:400;color:#8c8c8c;letter-spacing:-0.03px;left:-237.06px;width:800px;text-align:center;">ADDED SUGAR - 0 g</div>
<div class="t" style="top:1949.0px;font-size:31px;line-height:31px;font-weight:700;color:#6d6d6d;letter-spacing:1.05px;left:-237.64px;width:800px;text-align:center;">0% DV</div>
<div class="t" style="top:1920.5px;font-size:25px;line-height:25px;font-weight:400;color:#8c8c8c;letter-spacing:0.02px;left:86.96px;width:800px;text-align:center;">SODIUM - 444 mg</div>
<div class="t" style="top:1949.0px;font-size:31px;line-height:31px;font-weight:700;color:#6d6d6d;letter-spacing:-0.21px;left:86.23px;width:800px;text-align:center;">19% DV</div>
<div class="t" style="top:2079.5px;font-size:25px;line-height:25px;font-weight:400;color:#8c8c8c;letter-spacing:-0.5px;left:-237.80px;width:800px;text-align:center;">CHOLESTEROL - 6.1 mg</div>
<div class="t" style="top:2108.0px;font-size:31px;line-height:31px;font-weight:700;color:#6d6d6d;letter-spacing:-0.28px;left:-238.30px;width:800px;text-align:center;">1.7% DV</div>
<div class="t" style="top:2079.5px;font-size:25px;line-height:25px;font-weight:400;color:#8c8c8c;letter-spacing:0.04px;left:86.97px;width:800px;text-align:center;">SAT. FAT - 1.9 g</div>
<div class="t" style="top:2108.0px;font-size:31px;line-height:31px;font-weight:700;color:#6d6d6d;letter-spacing:1.06px;left:86.87px;width:800px;text-align:center;">6.8% DV</div>
<div class="t" style="top:2193.1px;font-size:45px;line-height:45px;font-weight:700;color:#eda677;letter-spacing:1.2px;left:29.30px;transform:scaleX(1.0075);transform-origin:left center;">GLYCEMIC INDEX</div>
<div class="t" style="top:2242.6px;font-size:23.3px;line-height:23.3px;font-weight:400;color:#efb085;letter-spacing:-0.5px;left:29.70px;transform:scaleX(0.9747);transform-origin:left center;">ESTIMATED FOR THIS FOOD</div>
<div class="t" style="top:2287.5px;font-size:22px;line-height:22px;font-weight:700;color:#6d6d6d;letter-spacing:0.22px;left:133.00px;">LOW</div>
<div class="t" style="top:2287.5px;font-size:22px;line-height:22px;font-weight:400;color:#8a8a8a;letter-spacing:0.75px;left:199.50px;">32</div>
<div class="t" style="top:2378.5px;font-size:19px;line-height:19px;font-weight:400;color:#4a4a4a;left:-352.72px;width:800px;text-align:center;">0</div>
<div class="t" style="top:2378.5px;font-size:19px;line-height:19px;font-weight:400;color:#4a4a4a;left:-212.72px;width:800px;text-align:center;">25</div>
<div class="t" style="top:2378.5px;font-size:19px;line-height:19px;font-weight:400;color:#4a4a4a;left:-71.72px;width:800px;text-align:center;">50</div>
<div class="t" style="top:2378.5px;font-size:19px;line-height:19px;font-weight:400;color:#4a4a4a;left:70.28px;width:800px;text-align:center;">75</div>
<div class="t" style="top:2378.5px;font-size:19px;line-height:19px;font-weight:400;color:#4a4a4a;left:196.78px;width:800px;text-align:center;">100</div>
<div class="t" style="top:2472.7px;font-size:30.5px;line-height:30.5px;font-weight:400;color:#4b93a3;letter-spacing:-0.5px;left:28.70px;transform:scaleX(0.9503);transform-origin:left center;">HOW TO BURN</div>
<div class="t" style="top:2501.2px;font-size:36px;line-height:36px;font-weight:700;color:#3d8a9b;letter-spacing:-0.5px;left:30.00px;transform:scaleX(0.9441);transform-origin:left center;">THOSE CALORIES</div>
<div class="t" style="top:2679.1px;font-size:21px;line-height:21px;font-weight:400;color:#8c8c8c;letter-spacing:0.11px;left:-318.71px;width:800px;text-align:center;">Cleaning</div>
<div class="t" style="top:2706.4px;font-size:19.5px;line-height:19.5px;font-weight:700;color:#6d6d6d;letter-spacing:1.03px;left:-317.63px;width:800px;text-align:center;">26 min</div>
<div class="t" style="top:2679.1px;font-size:21px;line-height:21px;font-weight:400;color:#8c8c8c;letter-spacing:-0.19px;left:-155.94px;width:800px;text-align:center;">Climbing Stairs</div>
<div class="t" style="top:2706.4px;font-size:19.5px;line-height:19.5px;font-weight:700;color:#6d6d6d;letter-spacing:0.03px;left:-155.63px;width:800px;text-align:center;">17 min</div>
<div class="t" style="top:2679.1px;font-size:21px;line-height:21px;font-weight:400;color:#8c8c8c;letter-spacing:-0.36px;left:5.86px;width:800px;text-align:center;">Cycling</div>
<div class="t" style="top:2706.4px;font-size:19.5px;line-height:19.5px;font-weight:700;color:#6d6d6d;letter-spacing:-0.16px;left:6.08px;width:800px;text-align:center;">11 min</div>
<div class="t" style="top:2679.1px;font-size:21px;line-height:21px;font-weight:400;color:#8c8c8c;letter-spacing:-0.08px;left:167.50px;width:800px;text-align:center;">Jogging</div>
<div class="t" style="top:2706.4px;font-size:19.5px;line-height:19.5px;font-weight:700;color:#6d6d6d;letter-spacing:0.37px;left:167.84px;width:800px;text-align:center;">9 min</div>
<div class="t" style="top:2772.8px;font-size:45px;line-height:45px;font-weight:700;color:#4dab7e;letter-spacing:0.76px;right:29.43px;">VITAMINS</div>
<div class="t" style="top:2818.2px;font-size:19.8px;line-height:19.8px;font-weight:400;color:#5cb389;letter-spacing:-0.5px;right:29.91px;transform:scaleX(0.9693);transform-origin:right center;">(% OF DAILY VALUE)</div>
<div class="t" style="top:2884.3px;font-size:21.5px;line-height:21.5px;font-weight:400;color:#8a8a8a;right:571.04px;">1075</div>
<div class="t" style="top:2919.4px;font-size:21.5px;line-height:21.5px;font-weight:400;color:#8a8a8a;right:571.04px;">860</div>
<div class="t" style="top:2954.6px;font-size:21.5px;line-height:21.5px;font-weight:400;color:#8a8a8a;right:571.04px;">645</div>
<div class="t" style="top:2989.7px;font-size:21.5px;line-height:21.5px;font-weight:400;color:#8a8a8a;right:571.04px;">430</div>
<div class="t" style="top:3024.9px;font-size:21.5px;line-height:21.5px;font-weight:400;color:#8a8a8a;right:571.04px;">215</div>
<div class="t" style="top:3060.0px;font-size:21.5px;line-height:21.5px;font-weight:400;color:#8a8a8a;right:571.04px;">0</div>
<div class="t" style="top:2984.5px;font-size:21.5px;line-height:21.5px;font-weight:400;color:#74be92;left:-292.52px;width:800px;text-align:center;">355</div>
<div class="t" style="top:3079.9px;font-size:21.5px;line-height:21.5px;font-weight:400;color:#8a8a8a;left:-292.83px;width:800px;text-align:center;">A</div>
<div class="t" style="top:3041.5px;font-size:21.5px;line-height:21.5px;font-weight:400;color:#74be92;left:-249.82px;width:800px;text-align:center;">5</div>
<div class="t" style="top:3079.9px;font-size:21.5px;line-height:21.5px;font-weight:400;color:#8a8a8a;left:-249.82px;width:800px;text-align:center;">B1</div>
<div class="t" style="top:3041.4px;font-size:21.5px;line-height:21.5px;font-weight:400;color:#74be92;left:-207.12px;width:800px;text-align:center;">7</div>
<div class="t" style="top:3079.9px;font-size:21.5px;line-height:21.5px;font-weight:400;color:#8a8a8a;left:-207.12px;width:800px;text-align:center;">B2</div>
<div class="t" style="top:3041.5px;font-size:21.5px;line-height:21.5px;font-weight:400;color:#74be92;left:-164.42px;width:800px;text-align:center;">3</div>
<div class="t" style="top:3079.9px;font-size:21.5px;line-height:21.5px;font-weight:400;color:#8a8a8a;left:-164.92px;width:800px;text-align:center;">B3</div>
<div class="t" style="top:3041.5px;font-size:21.5px;line-height:21.5px;font-weight:400;color:#74be92;left:-121.72px;width:800px;text-align:center;">3</div>
<div class="t" style="top:3079.9px;font-size:21.5px;line-height:21.5px;font-weight:400;color:#8a8a8a;left:-122.22px;width:800px;text-align:center;">B5</div>
<div class="t" style="top:3041.0px;font-size:21.5px;line-height:21.5px;font-weight:400;color:#74be92;left:-79.02px;width:800px;text-align:center;">9</div>
<div class="t" style="top:3079.9px;font-size:21.5px;line-height:21.5px;font-weight:400;color:#8a8a8a;left:-79.52px;width:800px;text-align:center;">B6</div>
<div class="t" style="top:3039.9px;font-size:21.5px;line-height:21.5px;font-weight:400;color:#74be92;left:-36.82px;width:800px;text-align:center;">16</div>
<div class="t" style="top:3079.9px;font-size:21.5px;line-height:21.5px;font-weight:400;color:#8a8a8a;left:-36.32px;width:800px;text-align:center;">B9</div>
<div class="t" style="top:3041.5px;font-size:21.5px;line-height:21.5px;font-weight:400;color:#74be92;left:6.38px;width:800px;text-align:center;">3</div>
<div class="t" style="top:3079.9px;font-size:21.5px;line-height:21.5px;font-weight:400;color:#8a8a8a;left:6.38px;width:800px;text-align:center;">B12</div>
<div class="t" style="top:3032.7px;font-size:21.5px;line-height:21.5px;font-weight:400;color:#74be92;left:48.58px;width:800px;text-align:center;">60</div>
<div class="t" style="top:3079.9px;font-size:21.5px;line-height:21.5px;font-weight:400;color:#8a8a8a;left:48.86px;width:800px;text-align:center;">C</div>
<div class="t" style="top:3041.5px;font-size:21.5px;line-height:21.5px;font-weight:400;color:#74be92;left:91.78px;width:800px;text-align:center;">0</div>
<div class="t" style="top:3079.9px;font-size:21.5px;line-height:21.5px;font-weight:400;color:#8a8a8a;left:91.56px;width:800px;text-align:center;">D</div>
<div class="t" style="top:3035.3px;font-size:21.5px;line-height:21.5px;font-weight:400;color:#74be92;left:134.48px;width:800px;text-align:center;">44</div>
<div class="t" style="top:3079.9px;font-size:21.5px;line-height:21.5px;font-weight:400;color:#8a8a8a;left:134.17px;width:800px;text-align:center;">E</div>
<div class="t" style="top:2867.7px;font-size:21.5px;line-height:21.5px;font-weight:400;color:#74be92;left:177.18px;width:800px;text-align:center;">1069</div>
<div class="t" style="top:3079.9px;font-size:21.5px;line-height:21.5px;font-weight:400;color:#8a8a8a;left:176.37px;width:800px;text-align:center;">K</div>
<div class="t" style="top:3152.8px;font-size:45px;line-height:45px;font-weight:700;color:#8463e0;letter-spacing:-0.5px;left:27.70px;transform:scaleX(0.9893);transform-origin:left center;">MINERALS</div>
<div class="t" style="top:3199.4px;font-size:19.8px;line-height:19.8px;font-weight:400;color:#8f72e3;letter-spacing:-0.5px;left:28.30px;transform:scaleX(0.9709);transform-origin:left center;">(% OF DAILY VALUE)</div>
<div class="t" style="top:3266.3px;font-size:21.5px;line-height:21.5px;font-weight:400;color:#8a8a8a;right:586.04px;">100</div>
<div class="t" style="top:3301.7px;font-size:21.5px;line-height:21.5px;font-weight:400;color:#8a8a8a;right:586.04px;">80</div>
<div class="t" style="top:3337.1px;font-size:21.5px;line-height:21.5px;font-weight:400;color:#8a8a8a;right:586.04px;">60</div>
<div class="t" style="top:3372.5px;font-size:21.5px;line-height:21.5px;font-weight:400;color:#8a8a8a;right:586.04px;">40</div>
<div class="t" style="top:3407.9px;font-size:21.5px;line-height:21.5px;font-weight:400;color:#8a8a8a;right:586.04px;">20</div>
<div class="t" style="top:3443.3px;font-size:21.5px;line-height:21.5px;font-weight:400;color:#8a8a8a;right:586.04px;">0</div>
<div class="t" style="top:3379.7px;font-size:21.5px;line-height:21.5px;font-weight:400;color:#8b7be6;left:-300.02px;width:800px;text-align:center;">26</div>
<div class="t" style="top:3463.2px;font-size:21.5px;line-height:21.5px;font-weight:400;color:#8a8a8a;left:-300.02px;width:800px;text-align:center;">Ca</div>
<div class="t" style="top:3404.5px;font-size:21.5px;line-height:21.5px;font-weight:400;color:#8b7be6;left:-240.12px;width:800px;text-align:center;">12</div>
<div class="t" style="top:3463.2px;font-size:21.5px;line-height:21.5px;font-weight:400;color:#8a8a8a;left:-240.12px;width:800px;text-align:center;">Cu</div>
<div class="t" style="top:3395.7px;font-size:21.5px;line-height:21.5px;font-weight:400;color:#8b7be6;left:-180.72px;width:800px;text-align:center;">17</div>
<div class="t" style="top:3463.2px;font-size:21.5px;line-height:21.5px;font-weight:400;color:#8a8a8a;left:-180.72px;width:800px;text-align:center;">Fe</div>
<div class="t" style="top:3408.1px;font-size:21.5px;line-height:21.5px;font-weight:400;color:#8b7be6;left:-121.82px;width:800px;text-align:center;">10</div>
<div class="t" style="top:3463.2px;font-size:21.5px;line-height:21.5px;font-weight:400;color:#8a8a8a;left:-122.13px;width:800px;text-align:center;">K</div>
<div class="t" style="top:3408.1px;font-size:21.5px;line-height:21.5px;font-weight:400;color:#8b7be6;left:-62.42px;width:800px;text-align:center;">10</div>
<div class="t" style="top:3463.2px;font-size:21.5px;line-height:21.5px;font-weight:400;color:#8a8a8a;left:-61.92px;width:800px;text-align:center;">Mg</div>
<div class="t" style="top:3356.7px;font-size:21.5px;line-height:21.5px;font-weight:400;color:#8b7be6;left:-2.02px;width:800px;text-align:center;">39</div>
<div class="t" style="top:3463.2px;font-size:21.5px;line-height:21.5px;font-weight:400;color:#8a8a8a;left:-2.52px;width:800px;text-align:center;">Mn</div>
<div class="t" style="top:3416.9px;font-size:21.5px;line-height:21.5px;font-weight:400;color:#8b7be6;left:56.88px;width:800px;text-align:center;">5</div>
<div class="t" style="top:3463.2px;font-size:21.5px;line-height:21.5px;font-weight:400;color:#8a8a8a;left:56.57px;width:800px;text-align:center;">P</div>
<div class="t" style="top:3420.4px;font-size:21.5px;line-height:21.5px;font-weight:400;color:#8b7be6;left:116.28px;width:800px;text-align:center;">3</div>
<div class="t" style="top:3463.2px;font-size:21.5px;line-height:21.5px;font-weight:400;color:#8a8a8a;left:116.78px;width:800px;text-align:center;">Se</div>
<div class="t" style="top:3416.9px;font-size:21.5px;line-height:21.5px;font-weight:400;color:#8b7be6;left:175.68px;width:800px;text-align:center;">5</div>
<div class="t" style="top:3463.2px;font-size:21.5px;line-height:21.5px;font-weight:400;color:#8a8a8a;left:176.18px;width:800px;text-align:center;">Zn</div>
<div class="t" style="top:3532.8px;font-size:45px;line-height:45px;font-weight:700;color:#edc373;letter-spacing:0.32px;right:30.67px;">AMINO ACIDS</div>
<div class="t" style="top:3579.6px;font-size:18.8px;line-height:18.8px;font-weight:400;color:#efca82;letter-spacing:-0.47px;right:31.94px;">THESE ARE ESSENTIAL FOR YOUR BODY</div>
<div class="t" style="top:3647.5px;font-size:20.5px;line-height:20.5px;font-weight:700;color:#fff;letter-spacing:0.7px;left:-321.65px;width:800px;text-align:center;">0.13</div>
<div class="t" style="top:3669.8px;font-size:14.5px;line-height:14.5px;font-weight:400;color:#fff;left:-322.17px;width:800px;text-align:center;">g</div>
<div class="t" style="top:3708.9px;font-size:19.5px;line-height:19.5px;font-weight:400;color:#707070;letter-spacing:0.76px;left:-322.40px;width:800px;text-align:center;">Histidine</div>
<div class="t" style="top:3647.5px;font-size:20.5px;line-height:20.5px;font-weight:700;color:#fff;letter-spacing:1.2px;left:-196.70px;width:800px;text-align:center;transform:scaleX(1.0436);transform-origin:center center;">0.29</div>
<div class="t" style="top:3669.8px;font-size:14.5px;line-height:14.5px;font-weight:400;color:#fff;left:-197.47px;width:800px;text-align:center;">g</div>
<div class="t" style="top:3708.9px;font-size:19.5px;line-height:19.5px;font-weight:400;color:#707070;letter-spacing:0.89px;left:-197.63px;width:800px;text-align:center;">Isoleucine</div>
<div class="t" style="top:3647.5px;font-size:20.5px;line-height:20.5px;font-weight:700;color:#fff;letter-spacing:0.83px;left:-72.38px;width:800px;text-align:center;">0.51</div>
<div class="t" style="top:3669.8px;font-size:14.5px;line-height:14.5px;font-weight:400;color:#fff;left:-72.97px;width:800px;text-align:center;">g</div>
<div class="t" style="top:3708.9px;font-size:19.5px;line-height:19.5px;font-weight:400;color:#707070;letter-spacing:0.92px;left:-73.12px;width:800px;text-align:center;">Leucine</div>
<div class="t" style="top:3647.5px;font-size:20.5px;line-height:20.5px;font-weight:700;color:#fff;letter-spacing:1.2px;left:51.30px;width:800px;text-align:center;transform:scaleX(1.0550);transform-origin:center center;">0.36</div>
<div class="t" style="top:3669.8px;font-size:14.5px;line-height:14.5px;font-weight:400;color:#fff;left:50.53px;width:800px;text-align:center;">g</div>
<div class="t" style="top:3708.9px;font-size:19.5px;line-height:19.5px;font-weight:400;color:#707070;letter-spacing:1.14px;left:50.49px;width:800px;text-align:center;">Lysine</div>
<div class="t" style="top:3647.5px;font-size:20.5px;line-height:20.5px;font-weight:700;color:#fff;letter-spacing:0.7px;left:176.55px;width:800px;text-align:center;">0.13</div>
<div class="t" style="top:3669.8px;font-size:14.5px;line-height:14.5px;font-weight:400;color:#fff;left:176.03px;width:800px;text-align:center;">g</div>
<div class="t" style="top:3708.9px;font-size:19.5px;line-height:19.5px;font-weight:400;color:#707070;letter-spacing:1.05px;left:175.95px;width:800px;text-align:center;">Methionine</div>
<div class="t" style="top:3776.4px;font-size:20.5px;line-height:20.5px;font-weight:700;color:#fff;letter-spacing:1.2px;left:-321.90px;width:800px;text-align:center;transform:scaleX(1.0321);transform-origin:center center;">0.34</div>
<div class="t" style="top:3798.7px;font-size:14.5px;line-height:14.5px;font-weight:400;color:#fff;left:-322.17px;width:800px;text-align:center;">g</div>
<div class="t" style="top:3838.4px;font-size:19.5px;line-height:19.5px;font-weight:400;color:#707070;letter-spacing:0.86px;left:-322.35px;width:800px;text-align:center;">Phenylalanine</div>
<div class="t" style="top:3776.4px;font-size:20.5px;line-height:20.5px;font-weight:700;color:#fff;letter-spacing:1.2px;left:-196.70px;width:800px;text-align:center;transform:scaleX(1.0162);transform-origin:center center;">0.3</div>
<div class="t" style="top:3798.7px;font-size:14.5px;line-height:14.5px;font-weight:400;color:#fff;left:-197.47px;width:800px;text-align:center;">g</div>
<div class="t" style="top:3838.4px;font-size:19.5px;line-height:19.5px;font-weight:400;color:#707070;letter-spacing:1.0px;left:-197.08px;width:800px;text-align:center;">Threonine</div>
<div class="t" style="top:3776.4px;font-size:20.5px;line-height:20.5px;font-weight:700;color:#fff;letter-spacing:-0.5px;left:-73.05px;width:800px;text-align:center;">0.1</div>
<div class="t" style="top:3798.7px;font-size:14.5px;line-height:14.5px;font-weight:400;color:#fff;left:-72.97px;width:800px;text-align:center;">g</div>
<div class="t" style="top:3838.4px;font-size:19.5px;line-height:19.5px;font-weight:400;color:#707070;letter-spacing:0.71px;left:-72.72px;width:800px;text-align:center;">Tryptophan</div>
<div class="t" style="top:3776.4px;font-size:20.5px;line-height:20.5px;font-weight:700;color:#fff;letter-spacing:1.2px;left:51.30px;width:800px;text-align:center;transform:scaleX(1.0550);transform-origin:center center;">0.38</div>
<div class="t" style="top:3798.7px;font-size:14.5px;line-height:14.5px;font-weight:400;color:#fff;left:50.53px;width:800px;text-align:center;">g</div>
<div class="t" style="top:3838.4px;font-size:19.5px;line-height:19.5px;font-weight:400;color:#707070;letter-spacing:1.2px;left:51.02px;width:800px;text-align:center;">Valine</div>
<div class="t" style="top:3963.9px;font-size:16.5px;line-height:16.5px;font-weight:400;color:#fff;letter-spacing:-0.29px;left:-75.56px;width:800px;text-align:center;">Nutrition Tracker &amp; Health Coach</div>
<div class="t" style="top:3984.4px;font-size:16.5px;line-height:16.5px;font-weight:400;color:#fff;letter-spacing:1.2px;left:-73.53px;width:800px;text-align:center;transform:scaleX(1.1197);transform-origin:center center;text-decoration:underline;text-underline-offset:3px;">www.inlivo.com</div>
<div class="t" style="top:4014.4px;font-size:13px;line-height:13px;font-weight:400;color:#fff;letter-spacing:0.33px;left:-75.22px;width:800px;text-align:center;">Nothing contained in this presentation and our services is intended or implied</div>
<div class="t" style="top:4031.4px;font-size:13px;line-height:13px;font-weight:400;color:#fff;letter-spacing:0.3px;left:-74.54px;width:800px;text-align:center;">to be a medical advice, diagnosis or treatment.</div>
<div class="t" style="top:4111.3px;font-size:14px;line-height:14px;font-weight:700;color:#d5c4d3;letter-spacing:-0.34px;left:-75.28px;width:800px;text-align:center;">Available on your desktop, tablet and mobile phone</div>
</div></body></html>
